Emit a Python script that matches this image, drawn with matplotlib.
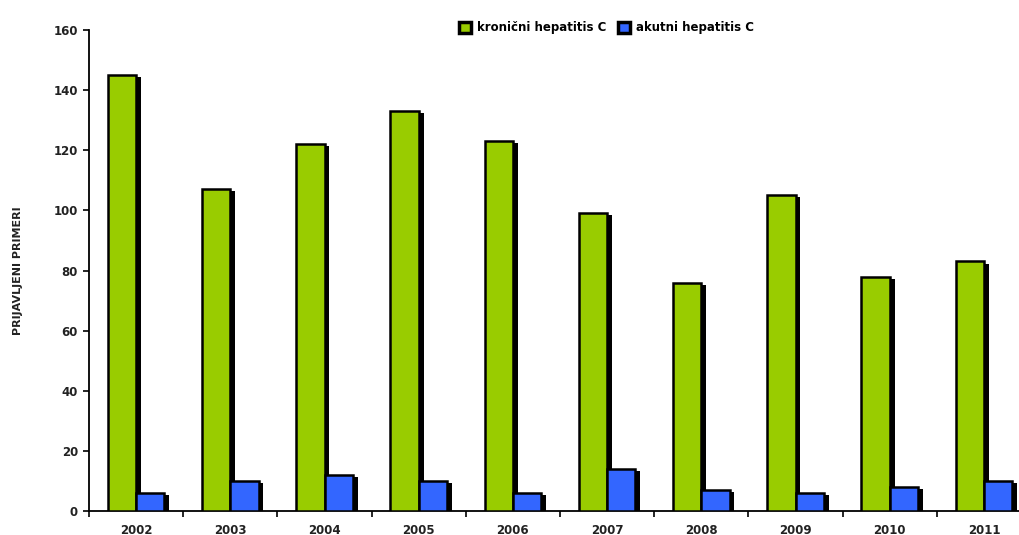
import matplotlib
matplotlib.use("Agg")
import matplotlib.pyplot as plt
import matplotlib.patheffects as pe
import numpy as np

years = ["2002", "2003", "2004", "2005", "2006", "2007", "2008", "2009", "2010", "2011"]
kronicni = [145, 107, 122, 133, 123, 99, 76, 105, 78, 83]
akutni = [6, 10, 12, 10, 6, 14, 7, 6, 8, 10]
series_labels = ["kronični hepatitis C", "akutni hepatitis C"]
y_ticks = [0, 20, 40, 60, 80, 100, 120, 140, 160]

green = "#99cc00"
blue = "#3366ff"

plt.rcParams['font.family'] = ['DejaVu Sans']
fig = plt.figure(figsize=(10.19, 5.35), dpi=100)
ax = fig.add_axes([89/1019, 24/535, 942/1019, 481/535])

x = np.arange(len(years))
w = 0.3
shadow = [pe.SimplePatchShadow(offset=(3.5, -1.5), shadow_rgbFace='black', alpha=1.0), pe.Normal()]
b1 = ax.bar(x - w/2, kronicni, w, color=green, edgecolor='black', linewidth=1.8,
            label=series_labels[0], zorder=3)
b2 = ax.bar(x + w/2, akutni, w, color=blue, edgecolor='black', linewidth=1.8,
            label=series_labels[1], zorder=3)
for b in list(b1) + list(b2):
    b.set_path_effects(shadow)

ax.set_xlim(-0.5, len(years) - 0.5)
ax.set_ylim(0, 160)
ax.set_yticks(y_ticks)
ax.set_yticklabels([str(v) for v in y_ticks], fontsize=8.5, fontweight='semibold', color='#222222')
ax.set_xticks(x)
ax.set_xticklabels(years, fontsize=8.5, fontweight='semibold', color='#222222')
ax.set_xticks(np.arange(len(years) + 1) - 0.5, minor=True)
ax.tick_params(axis='x', which='major', length=0, pad=9)
ax.tick_params(axis='x', which='minor', length=4, width=1.2, direction='out')
ax.tick_params(axis='y', length=4, width=1.2, direction='out', pad=4)
for s in ['top', 'right']:
    ax.spines[s].set_visible(False)
ax.spines['left'].set_linewidth(1.3)
ax.spines['bottom'].set_linewidth(1.3)

ax.set_ylabel("PRIJAVLJENI PRIMERI", fontsize=8, fontweight='semibold', color='#222222', labelpad=22)

leg = fig.legend(handles=[b1, b2], labels=series_labels, loc='center', bbox_to_anchor=(0.595, 0.948),
                 ncol=2, frameon=False, handlelength=1.0, handleheight=1.0,
                 handletextpad=0.5, columnspacing=1.0, prop={'weight': 'semibold', 'size': 8.5})
for h in leg.legend_handles:
    h.set_path_effects([])
    h.set_linewidth(2.5)

fig.savefig("out.png", dpi=100)
